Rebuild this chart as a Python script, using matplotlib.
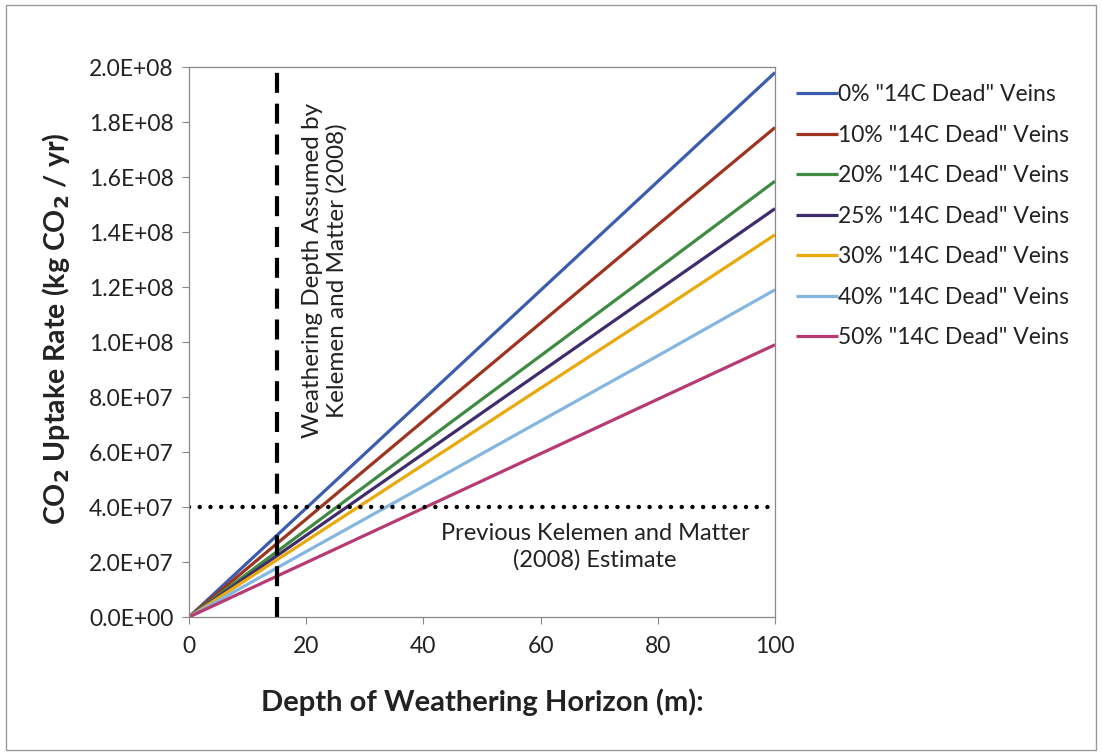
import matplotlib
matplotlib.use("Agg")
import matplotlib.pyplot as plt
from matplotlib.patches import Rectangle

plt.rcParams['font.family'] = ['Lato', 'DejaVu Sans']

depth = [0, 20, 40, 60, 80, 100]
labels = ['0% "14C Dead" Veins', '10% "14C Dead" Veins', '20% "14C Dead" Veins',
          '25% "14C Dead" Veins', '30% "14C Dead" Veins', '40% "14C Dead" Veins',
          '50% "14C Dead" Veins']
v0 = [0, 3.96e7, 7.92e7, 1.188e8, 1.584e8, 1.98e8]
v10 = [0, 3.56e7, 7.13e7, 1.069e8, 1.426e8, 1.78e8]
v20 = [0, 3.17e7, 6.34e7, 9.50e7, 1.267e8, 1.585e8]
v25 = [0, 2.97e7, 5.94e7, 8.91e7, 1.188e8, 1.485e8]
v30 = [0, 2.77e7, 5.54e7, 8.32e7, 1.109e8, 1.39e8]
v40 = [0, 2.38e7, 4.75e7, 7.13e7, 9.50e7, 1.19e8]
v50 = [0, 1.98e7, 3.96e7, 5.94e7, 7.92e7, 0.99e8]
series = [v0, v10, v20, v25, v30, v40, v50]
colors = ['#3B5DAF', '#9E3320', '#3E8B41', '#3F2C6C', '#E9A90C', '#84B6E2', '#B83A72']

assumed_depth = 15
previous_estimate = 4.0e7
xticks = [0, 20, 40, 60, 80, 100]
yticks = [0, 2e7, 4e7, 6e7, 8e7, 1e8, 1.2e8, 1.4e8, 1.6e8, 1.8e8, 2e8]
ytick_labels = ['0.0E+00', '2.0E+07', '4.0E+07', '6.0E+07', '8.0E+07', '1.0E+08',
                '1.2E+08', '1.4E+08', '1.6E+08', '1.8E+08', '2.0E+08']

fig = plt.figure(figsize=(11.02, 7.53), dpi=100)
ax = fig.add_axes([0.1715, 0.1806, 0.5318, 0.7304])

for vals, lab, c in zip(series, labels, colors):
    ax.plot(depth, vals, color=c, lw=2.3, label=lab, solid_capstyle='butt')

ax.axvline(assumed_depth, color='black', lw=3, dashes=(4.8, 2.6))
ax.plot([0, 100], [previous_estimate, previous_estimate], color='black', lw=3.2,
        linestyle=(0, (0.01, 2.4)), dash_capstyle='round')

ax.set_xlim(0, 100)
ax.set_ylim(0, 2e8)
ax.set_xticks(xticks)
ax.set_xticklabels([str(t) for t in xticks])
ax.set_yticks(yticks)
ax.set_yticklabels(ytick_labels)
ax.tick_params(axis='both', direction='out', length=5, width=0.8, color='#888888',
               labelsize=16.5, colors='#222222', pad=6)
ax.tick_params(axis='x', pad=9)
for s in ax.spines.values():
    s.set_color('#888888')
    s.set_linewidth(0.9)

ax.set_xlabel('Depth of Weathering Horizon (m):', fontsize=21, fontweight='bold',
              color='#222222', labelpad=22)
ax.set_ylabel('CO$_\\mathbf{2}$ Uptake Rate (kg CO$_\\mathbf{2}$ / yr)', fontsize=20.5,
              fontweight='bold', color='#222222')
ax.yaxis.set_label_coords(-0.200, 0.525)

ax.text(23.2, 1.26e8, 'Weathering Depth Assumed by\nKelemen and Matter (2008)',
        rotation=90, ha='center', va='center', fontsize=17.5, color='#222222',
        linespacing=1.15)
ax.text(69.3, 2.55e7, 'Previous Kelemen and Matter\n(2008) Estimate',
        ha='center', va='center', fontsize=17, color='#222222', linespacing=1.25)

leg = ax.legend(loc='upper left', bbox_to_anchor=(1.02, 0.985), frameon=False,
                fontsize=16.5, handlelength=1.85, handletextpad=0.0,
                labelspacing=0.85, borderaxespad=0.0)
for t in leg.get_texts():
    t.set_color('#222222')

fig.patches.append(Rectangle((0.005, 0.004), 0.99, 0.99, transform=fig.transFigure,
                             fill=False, edgecolor='#999999', lw=1.0))

fig.savefig('out.png', dpi=100)
